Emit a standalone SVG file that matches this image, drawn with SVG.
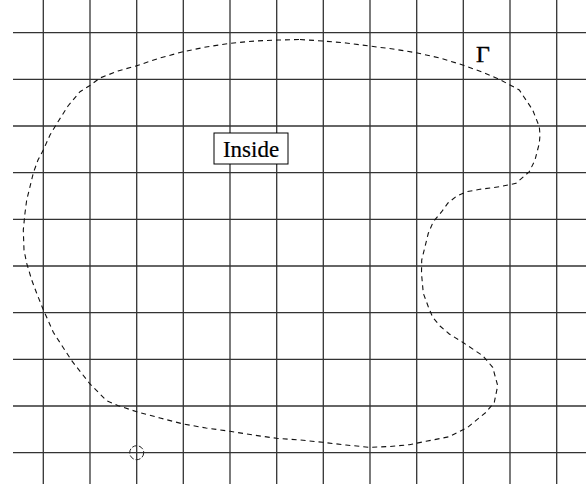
<svg xmlns="http://www.w3.org/2000/svg" width="586" height="484" viewBox="0 0 586 484">
<style>
.grid line{stroke:#333;stroke-width:1.3}
.curve{fill:none;stroke:#111;stroke-width:1.1;stroke-dasharray:5 4}
.lbl{font-family:"Liberation Serif","Times New Roman",serif;fill:#000}
</style>
<rect width="586" height="484" fill="#fff"/>
<g id="grid" class="grid">
<line x1="43.3" y1="0" x2="43.3" y2="484"/>
<line x1="90" y1="0" x2="90" y2="484"/>
<line x1="136.7" y1="0" x2="136.7" y2="484"/>
<line x1="183.3" y1="0" x2="183.3" y2="484"/>
<line x1="230" y1="0" x2="230" y2="484"/>
<line x1="276.7" y1="0" x2="276.7" y2="484"/>
<line x1="323.3" y1="0" x2="323.3" y2="484"/>
<line x1="370" y1="0" x2="370" y2="484"/>
<line x1="416.7" y1="0" x2="416.7" y2="484"/>
<line x1="463.3" y1="0" x2="463.3" y2="484"/>
<line x1="510" y1="0" x2="510" y2="484"/>
<line x1="556.7" y1="0" x2="556.7" y2="484"/>
<line x1="13" y1="32.7" x2="586" y2="32.7"/>
<line x1="13" y1="79.3" x2="586" y2="79.3"/>
<line x1="13" y1="126" x2="586" y2="126"/>
<line x1="13" y1="172.7" x2="586" y2="172.7"/>
<line x1="13" y1="219.3" x2="586" y2="219.3"/>
<line x1="13" y1="266" x2="586" y2="266"/>
<line x1="13" y1="312.7" x2="586" y2="312.7"/>
<line x1="13" y1="359.3" x2="586" y2="359.3"/>
<line x1="13" y1="406" x2="586" y2="406"/>
<line x1="13" y1="452.7" x2="586" y2="452.7"/>
</g>
<g id="boundary">
<polygon class="curve" points="300,39.5 322.7,41 346,43 369.3,46 393,49 416,52.7 440,58 462.7,65 482,72 499.3,79.3 519.3,90 532.7,110 539.3,126.7 540,135 539.3,143.3 535,160 529.3,171.7 516,183.3 500,186.7 480,189.3 466.7,191.7 456.7,196 448,203 441.7,211.7 433.3,221.7 428.3,233.3 425,246.7 421.7,260 421.5,273.3 423.3,293.3 428.3,306.7 432.7,317.3 440,326 449.3,334 462.7,342.3 482.7,355.7 492.7,367.3 497.7,385.7 494.3,402.3 486,412.3 467.7,427.3 449.3,436.7 426,441.3 409.3,444.7 390,446.5 369.3,447.3 346,445 322.7,442.3 300,440 276.7,438.3 253,435 230,431.3 206,428 183.3,424 160,418 136.7,411.7 118.3,405.7 106.7,400.7 90,384 71.7,360.7 53.3,332.3 43,309 36.7,293.3 31.7,280 26.7,263.3 24,250 23.3,230 25,213 26.7,200 30,186.7 33.3,173 38,160 43.3,150 50,135 58,121.7 68,106 80,91.7 90.7,85 100,78 118,71 136.7,65.7 160,58 183,51.7 206,47 230,43.3 255,41 278,40"/>
</g>
<g id="gamma-label">
<text class="lbl" x="476" y="62" font-size="24" stroke="#000" stroke-width="0.4">Γ</text>
</g>
<g id="inside-node">
<rect x="214" y="133" width="74" height="31" fill="#fff" stroke="#000" stroke-width="1"/>
<text class="lbl" x="251" y="157" font-size="23" text-anchor="middle" stroke="#000" stroke-width="0.2">Inside</text>
</g>
<g id="point-marker">
<circle cx="136.7" cy="452.7" r="7" fill="none" stroke="#222" stroke-width="1" stroke-dasharray="5 2"/>
</g>
</svg>
